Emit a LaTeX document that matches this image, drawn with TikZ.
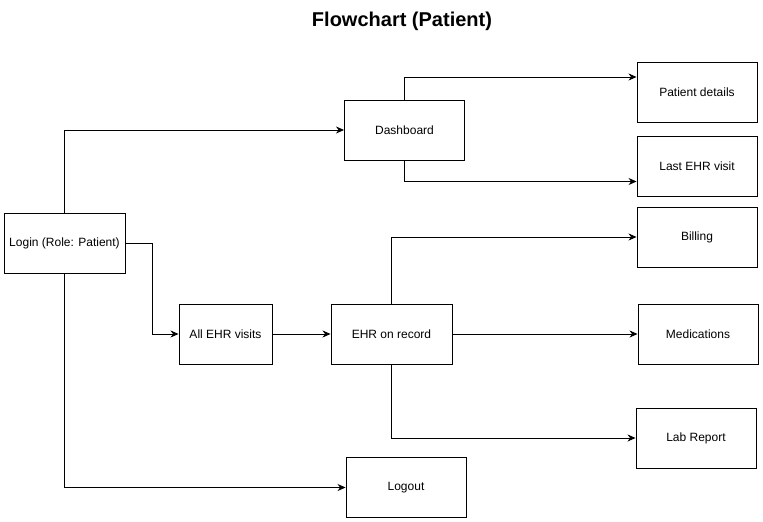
\documentclass[tikz,border=0pt]{standalone}
\usepackage{fontspec}
\setmainfont{Liberation Sans}
\usetikzlibrary{arrows.meta,calc}
\begin{document}
\begin{tikzpicture}[x=1pt,y=-1pt,
  box/.style={draw,line width=0.9pt,minimum width=120pt,minimum height=60pt,inner sep=0pt,font=\fontsize{12}{14}\selectfont},
  conn/.style={draw,line width=0.9pt,-{Stealth[length=8pt,width=7pt,inset=2.5pt]}},
  seg/.style={draw,line width=0.9pt}]
\useasboundingbox (0,0) rectangle (763,522);
\node[font=\bfseries\fontsize{20}{24}\selectfont,anchor=base] (title) at (402,27) {Flowchart (Patient)};
\node[box,minimum width=121pt] (login) at (64.5,243) {Login (Role: Patient)};
\node[box] (dash) at (404.5,130) {Dashboard};
\node[box] (pd) at (697,92) {Patient details};
\node[box] (last) at (697,166.5) {Last EHR visit};
\node[box] (bill) at (697,237) {Billing};
\node[box,minimum width=93pt] (allehr) at (225.5,334) {All EHR visits};
\node[box,minimum width=121pt] (ehr) at (391.5,334) {EHR on record};
\node[box] (med) at (698,334) {Medications};
\node[box] (lab) at (696,438) {Lab Report};
\node[box] (logout) at (406,487.5) {Logout};
\coordinate (b1) at (152,243);
\draw[conn] (login.north) |- (dash.west);
\draw[conn] (dash.north) |- ($(pd.west)+(0pt,15pt)$);
\draw[conn] (dash.south) |- ($(last.west)+(0pt,-15pt)$);
\draw[conn] (login.east) -- (b1) |- (allehr.west);
\draw[conn] (allehr.east) -- (ehr.west);
\draw[conn] (ehr.north) |- (bill.west);
\draw[conn] (ehr.east) -- (med.west);
\draw[conn] (ehr.south) |- (lab.west);
\draw[conn] (login.south) |- (logout.west);
\end{tikzpicture}
\end{document}
